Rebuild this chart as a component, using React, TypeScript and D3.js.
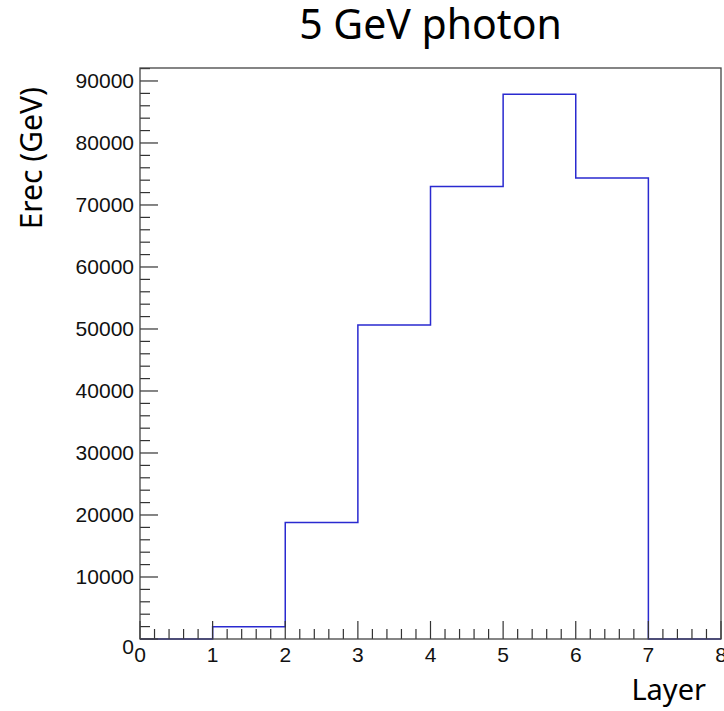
import React, { useEffect, useRef } from "react";
import * as d3 from "d3";

// histogram bin edges and contents (Layer vs Erec)
const binEdges = [0, 1, 2, 3, 4, 5, 6, 7, 8];
const binValues = [0, 1980, 18800, 50650, 73000, 87850, 74350, 0];
const yTicks = [0, 10000, 20000, 30000, 40000, 50000, 60000, 70000, 80000, 90000];
const xTicks = [0, 1, 2, 3, 4, 5, 6, 7, 8];

const W = 724, H = 711;
const margin = { left: 140, right: 3, top: 68, bottom: 72 };

export default function App() {
    const ref = useRef<SVGSVGElement>(null);

    useEffect(() => {
        const svg = d3.select(ref.current);
        svg.selectAll("*").remove();

        const x = d3.scaleLinear().domain([0, 8]).range([margin.left, W - margin.right]);
        const yMax = d3.max(binValues)! * 1.0483;
        const y = d3.scaleLinear().domain([0, yMax]).range([H - margin.bottom, margin.top]);

        const x0 = x(0), y0 = y(0);

        // histogram outline
        const pts: [number, number][] = binEdges.map((e, i) => [e, i < binValues.length ? binValues[i] : 0]);
        const line = d3.line<[number, number]>()
            .x(d => x(d[0]))
            .y(d => y(d[1]))
            .curve(d3.curveStepAfter);
        svg.append("path")
            .attr("d", line(pts))
            .attr("fill", "none")
            .attr("stroke", "#2a2ad0")
            .attr("stroke-width", 1.5);

        const axisCol = "#333";

        // y ticks
        const yMinor = d3.range(0, yMax, 2000);
        svg.append("g").selectAll("line")
            .data(yMinor)
            .join("line")
            .attr("x1", x0).attr("x2", d => x0 + (d % 10000 === 0 ? 18 : 10))
            .attr("y1", d => y(d)).attr("y2", d => y(d))
            .attr("stroke", axisCol).attr("stroke-width", 1.2);

        svg.append("g")
            .attr("font-family", "'Liberation Sans', Arial, sans-serif")
            .attr("font-size", 21)
            .attr("fill", "#111")
            .attr("text-anchor", "end")
            .selectAll("text")
            .data(yTicks)
            .join("text")
            .attr("x", x0 - 6)
            .attr("y", d => y(d) + (d === 0 ? 8 : 0))
            .attr("dy", "0.35em")
            .text(d => d);

        // x ticks
        const xMinor = d3.range(0, 8.001, 0.2);
        svg.append("g").selectAll("line")
            .data(xMinor)
            .join("line")
            .attr("x1", d => x(d)).attr("x2", d => x(d))
            .attr("y1", y0)
            .attr("y2", d => y0 - (Math.abs(d - Math.round(d)) < 1e-6 ? 18 : 10))
            .attr("stroke", axisCol).attr("stroke-width", 1.2);

        svg.append("g")
            .attr("font-family", "'Liberation Sans', Arial, sans-serif")
            .attr("font-size", 21)
            .attr("fill", "#111")
            .attr("text-anchor", "middle")
            .selectAll("text")
            .data(xTicks)
            .join("text")
            .attr("x", d => x(d))
            .attr("y", y0 + 23)
            .text(d => d);

        // frame
        svg.append("rect")
            .attr("x", x0).attr("y", margin.top)
            .attr("width", x(8) - x0).attr("height", y0 - margin.top)
            .attr("fill", "none")
            .attr("stroke", "#444")
            .attr("stroke-width", 1.3);

        // title and axis titles
        svg.append("text")
            .attr("x", (x0 + x(8)) / 2)
            .attr("y", 39)
            .attr("text-anchor", "middle")
            .attr("font-family", "'Noto Sans', sans-serif")
            .attr("font-size", 41)
            .text("5 GeV photon");

        svg.append("text")
            .attr("x", 706)
            .attr("y", 700)
            .attr("text-anchor", "end")
            .attr("font-family", "'Noto Sans', sans-serif")
            .attr("font-size", 29)
            .text("Layer");

        svg.append("text")
            .attr("transform", "translate(42,87) rotate(-90)")
            .attr("text-anchor", "end")
            .attr("font-family", "'Noto Sans', sans-serif")
            .attr("font-size", 30)
            .text("Erec (GeV)");
    }, []);

    return (
        <div style={{ position: "absolute", left: 0, top: 0 }}>
            <svg ref={ref} width={W} height={H} style={{ display: "block", background: "#fff" }} />
        </div>
    );
}
